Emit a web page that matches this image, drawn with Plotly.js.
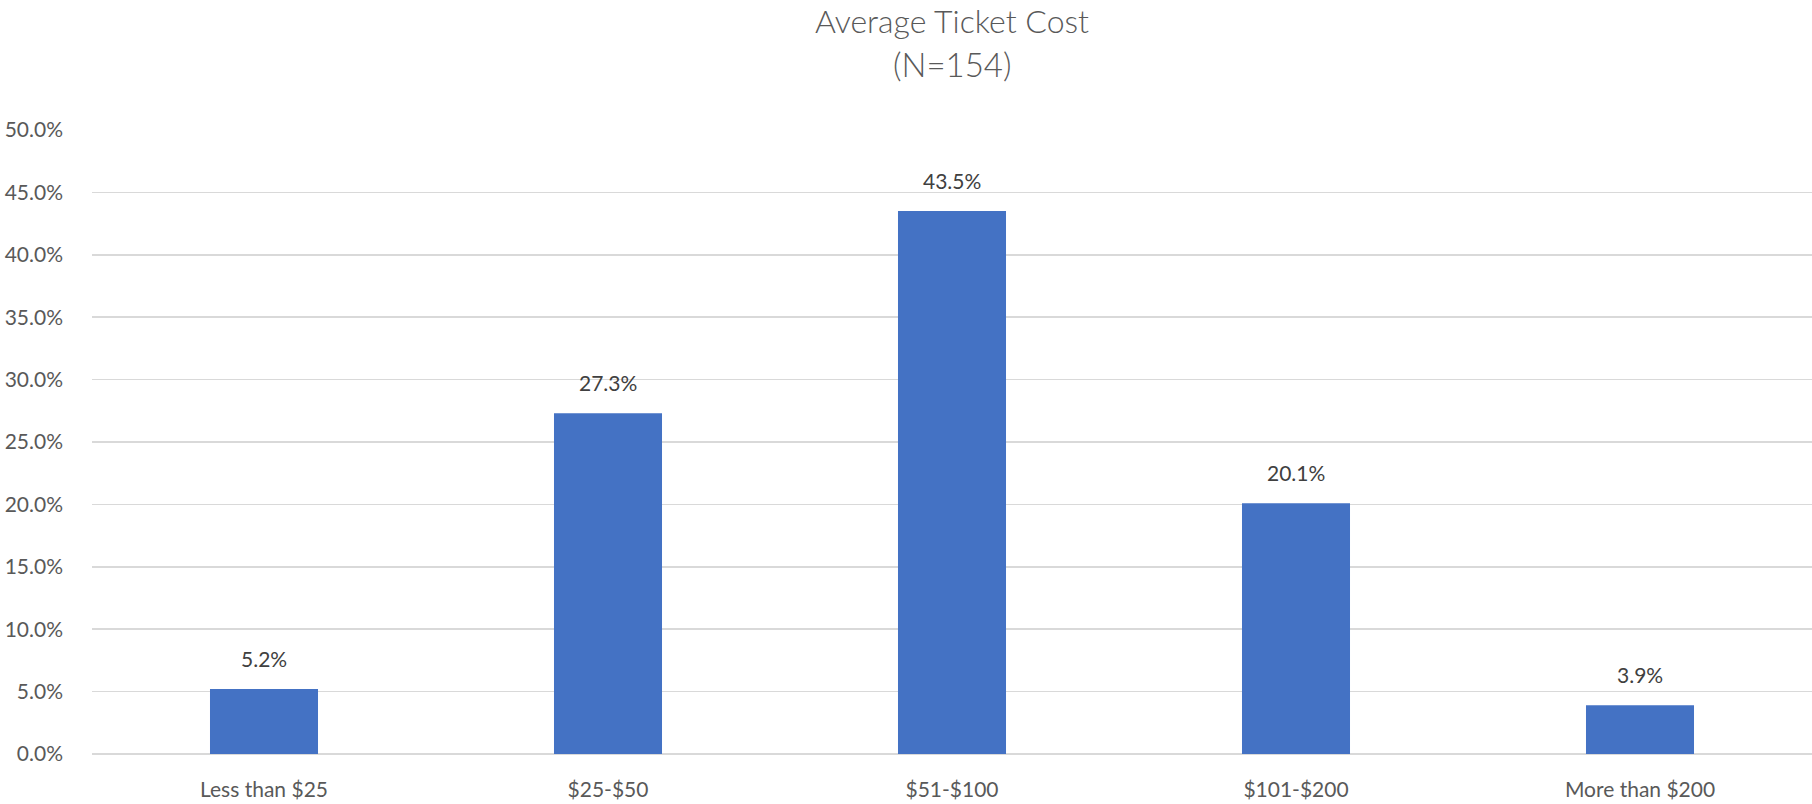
<!DOCTYPE html>
<html>
<head>
<meta charset="utf-8">
<script src="https://cdn.plot.ly/plotly-3.0.1.min.js"></script>
<style>html,body{margin:0;padding:0;background:#fff;}#chart{width:1812px;height:804px;}</style>
</head>
<body>
<div id="chart"></div>
<script>
const categories = ["Less than $25", "$25-$50", "$51-$100", "$101-$200", "More than $200"];
const values = [5.2, 27.3, 43.5, 20.1, 3.9];
const titleLine1 = "Average Ticket Cost";
const titleLine2 = "(N=154)";

const textColor = "#595959";
const fontFam = "Lato, 'Open Sans', sans-serif";

const barAnnotations = categories.map((c, i) => ({
  x: c, y: values[i], xref: "x", yref: "y",
  text: values[i].toFixed(1) + "%",
  showarrow: false, yanchor: "bottom", yshift: 16,
  font: {family: fontFam, size: 21, color: "#404040"}
}));

const layout = {
  width: 1812, height: 804,
  margin: {l: 92, r: 0, t: 130, b: 50},
  paper_bgcolor: "#ffffff", plot_bgcolor: "#ffffff",
  showlegend: false,
  bargap: 0.686,
  xaxis: {
    type: "category",
    showgrid: false, zeroline: false, showline: false,
    ticks: "", ticklabelstandoff: 21,
    tickfont: {family: fontFam, size: 21, color: textColor}
  },
  yaxis: {
    range: [0, 50], dtick: 5, tick0: 0,
    tickformat: ".1f", ticksuffix: "%",
    showgrid: true, gridcolor: "#d9d9d9", gridwidth: 1.5,
    zeroline: true, zerolinecolor: "#d9d9d9", zerolinewidth: 1.5,
    showline: false, ticks: "", ticklabelstandoff: 28,
    tickfont: {family: fontFam, size: 21, color: textColor},
    fixedrange: true
  },
  annotations: [
    {xref: "paper", yref: "paper", x: 0.5, y: 1.1426, xanchor: "center", yanchor: "bottom",
     borderpad: 0,
     text: titleLine1, showarrow: false, font: {family: fontFam, size: 32, color: textColor, weight: 300}},
    {xref: "paper", yref: "paper", x: 0.5, y: 1.0705, xanchor: "center", yanchor: "bottom",
     text: titleLine2, showarrow: false, font: {family: fontFam, size: 33, color: textColor, weight: 300}}
  ].concat(barAnnotations)
};

const trace = {
  type: "bar", x: categories, y: values,
  marker: {color: "#4472C4"},
  hoverinfo: "x+y"
};

Plotly.newPlot("chart", [trace], layout, {displayModeBar: false, staticPlot: true});
</script>
</body>
</html>
